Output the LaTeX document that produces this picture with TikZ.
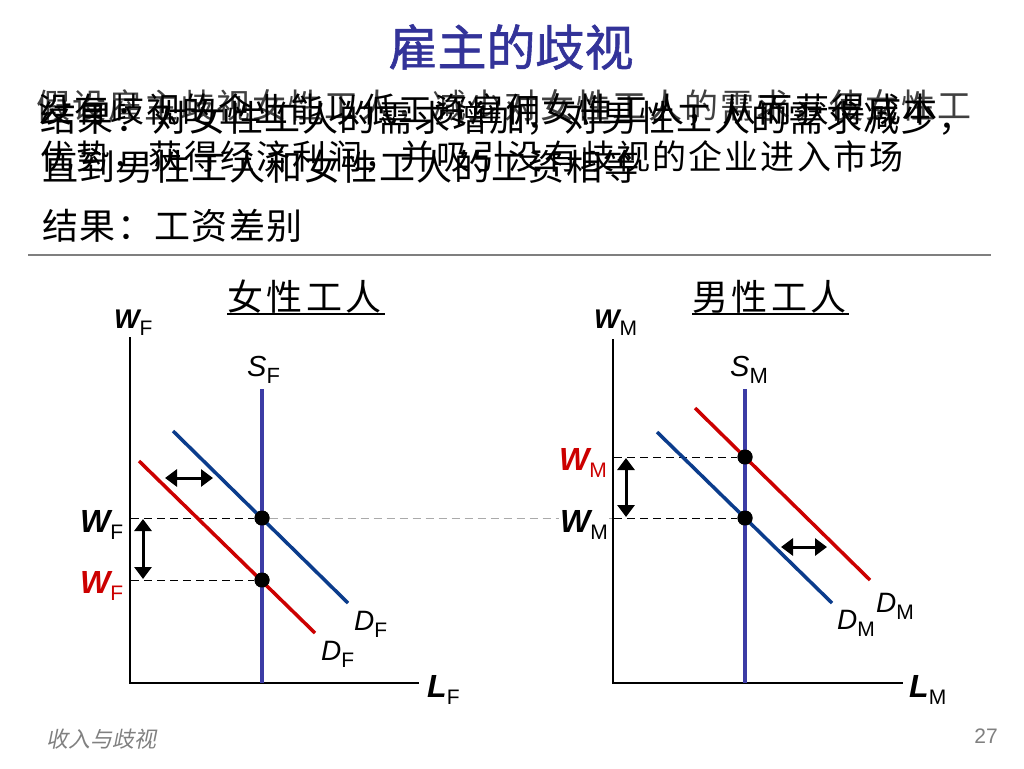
\documentclass[tikz,border=0pt]{standalone}
\usepackage{fontspec}
\setmainfont{Liberation Sans}
\newfontfamily\cjk{Noto Sans CJK SC}
\newfontfamily\cjkH[FakeBold=1.2]{Noto Sans CJK SC}
\newfontfamily\cjkA[LetterSpace=4]{Noto Sans CJK SC}
\newfontfamily\cjkB[LetterSpace=6]{Noto Sans CJK SC}
\newfontfamily\cjkT[LetterSpace=10]{Noto Sans CJK SC}
\newfontfamily\cjkI[FakeSlant=0.2]{Noto Sans CJK SC}
\usetikzlibrary{arrows.meta}
\definecolor{titleblue}{HTML}{333399}
\definecolor{supplyc}{HTML}{3C3CA5}
\definecolor{dblue}{HTML}{0B3C8C}
\definecolor{dred}{HTML}{CC0000}
\definecolor{rulec}{HTML}{7F7F7F}
\definecolor{footc}{HTML}{808080}
\definecolor{layerc}{HTML}{404040}
\definecolor{guidegray}{HTML}{AAAAAA}
\newcommand{\lbl}[4]{\fontsize{#1}{#1}\selectfont #2\raisebox{-7pt}{\fontsize{#3}{#3}\selectfont\mdseries\upshape #4}}
\tikzset{
  lab/.style={anchor=base west, inner sep=0pt},
  axisline/.style={line width=1.5pt, line cap=rect},
  supplyline/.style={line width=3.5pt, supplyc},
  demline/.style={line width=3.5pt},
  guide/.style={line width=1pt, dash pattern=on 8pt off 5pt},
  dotnode/.style={circle, fill=black, inner sep=0pt, minimum size=15pt},
  dbl/.style={line width=3pt, {Triangle[length=12pt,width=17pt]}-{Triangle[length=12pt,width=17pt]}},
  txt/.style={anchor=west, inner sep=0pt}
}
\begin{document}
\begin{tikzpicture}[x=1pt,y=-1pt]
\useasboundingbox[fill=white] (0,0) rectangle (1024,768);

% title
\node[inner sep=0pt, text=titleblue, font=\cjkH\fontsize{49}{49}\selectfont] (title) at (511,47) {雇主的歧视};

% overlapping text layers
\node[txt, text=layerc, font=\cjkB\fontsize{34}{34}\selectfont] (c1) at (36,106) {假设雇主歧视女性工人，减少对女性工人的需求，使女性工};
\node[txt, font=\cjkB\fontsize{34}{34}\selectfont] (b1) at (38,110) {没有歧视的企业能以低工资雇佣女性工人，从而获得成本};
\node[txt, font=\cjkB\fontsize{34}{34}\selectfont] (b2) at (40,157) {优势，获得经济利润，并吸引没有歧视的企业进入市场};
\node[txt, font=\cjkA\fontsize{36}{36}\selectfont] (a1) at (40,118) {结果：对女性工人的需求增加，对男性工人的需求减少，};
\node[txt, font=\cjkA\fontsize{36}{36}\selectfont] (a2) at (42,167) {直到男性工人和女性工人的工资相等};

\node[txt, font=\cjkA\fontsize{36}{36}\selectfont] (res) at (42,226) {结果：工资差别};
\coordinate (ruleL) at (28,255);
\coordinate (ruleR) at (991,255);
\draw[rulec, line width=1.5pt] (ruleL) -- (ruleR);

% chart titles
\node[txt, font=\cjkT\fontsize{36}{36}\selectfont] (tF) at (227,297) {女性工人};
\coordinate (uFl) at (227,314); \coordinate (uFr) at (385,314);
\draw[line width=1.2pt] (uFl) -- (uFr);
\node[txt, font=\cjkT\fontsize{36}{36}\selectfont] (tM) at (692,297) {男性工人};
\coordinate (uMl) at (692,314); \coordinate (uMr) at (849,314);
\draw[line width=1.2pt] (uMl) -- (uMr);

% ---------- left chart ----------
\coordinate (lYtop) at (130,338);
\coordinate (lO) at (130,683);
\coordinate (lXend) at (418,683);
\coordinate (lS1) at (262,389);
\coordinate (lS0) at (262,683);
\coordinate (lB1) at (173,431); \coordinate (lB2) at (348,603);
\coordinate (lR1) at (139,461); \coordinate (lR2) at (315,633);
\coordinate (lA1) at (131,518);
\coordinate (lA2) at (131,580);

% ---------- right chart ----------
\coordinate (rYtop) at (613,340);
\coordinate (rO) at (613,683);
\coordinate (rXend) at (902,683);
\coordinate (rS1) at (745,389);
\coordinate (rS0) at (745,683);
\coordinate (rR1) at (695,408); \coordinate (rR2) at (870,580);
\coordinate (rB1) at (657,432); \coordinate (rB2) at (832,603);
\coordinate (rA1) at (614,457);
\coordinate (rA2) at (614,518);

% dots
\node[dotnode] (lE1) at (262,518) {};
\node[dotnode] (lE2) at (262,580) {};
\node[dotnode] (rE1) at (745,457) {};
\node[dotnode] (rE2) at (745,518) {};

% guides
\draw[guide, guidegray] (lE1) -- (rA2);
\draw[guide] (lA1) -- (lE1);
\draw[guide] (lA2) -- (lE2);
\draw[guide] (rA1) -- (rE1);
\draw[guide] (rA2) -- (rE2);

% axes
\draw[axisline] (lYtop) -- (lO) -- (lXend);
\draw[axisline] (rYtop) -- (rO) -- (rXend);

% curves
\draw[supplyline] (lS1) -- (lS0);
\draw[supplyline] (rS1) -- (rS0);
\draw[demline, dblue] (lB1) -- (lB2);
\draw[demline, dred] (lR1) -- (lR2);
\draw[demline, dred] (rR1) -- (rR2);
\draw[demline, dblue] (rB1) -- (rB2);

% dots on top
\fill (lE1) circle (7.5pt);
\fill (lE2) circle (7.5pt);
\fill (rE1) circle (7.5pt);
\fill (rE2) circle (7.5pt);

% shift arrows
\coordinate (lv1) at (143,519); \coordinate (lv2) at (143,579);
\coordinate (lh1) at (165,478); \coordinate (lh2) at (213,478);
\coordinate (rv1) at (626,458); \coordinate (rv2) at (626,517);
\coordinate (rh1) at (781,547); \coordinate (rh2) at (827,547);
\draw[dbl] (lv1) -- (lv2);
\draw[dbl] (lh1) -- (lh2);
\draw[dbl] (rv1) -- (rv2);
\draw[dbl] (rh1) -- (rh2);

% labels left
\node[lab] (lWax) at (114,328) {\lbl{27}{\bfseries\itshape W}{21}{F}};
\node[lab] (lSl) at (247,376) {\lbl{29}{\itshape S}{22}{F}};
\node[lab] (lW1) at (80,532) {\lbl{32}{\bfseries\itshape W}{21}{F}};
\node[lab, text=dred] (lW2) at (80,593) {\lbl{32}{\bfseries\itshape W}{21}{F}};
\node[lab] (lDb) at (354,630) {\lbl{28}{\itshape D}{21}{F}};
\node[lab] (lDr) at (321,660) {\lbl{28}{\itshape D}{21}{F}};
\node[lab] (lLl) at (427,697) {\lbl{32}{\bfseries\itshape L}{21}{F}};

% labels right
\node[lab] (rWax) at (594,328) {\lbl{27}{\bfseries\itshape W}{21}{M}};
\node[lab] (rSl) at (730,376) {\lbl{29}{\itshape S}{22}{M}};
\node[lab, text=dred] (rW1) at (559,470) {\lbl{32}{\bfseries\itshape W}{21}{M}};
\node[lab, fill=white, inner sep=1pt] (rW2) at (559,532) {\lbl{32}{\bfseries\itshape W}{21}{M}};
\node[lab] (rDr) at (876,612) {\lbl{28}{\itshape D}{21}{M}};
\node[lab] (rDb) at (837,629) {\lbl{28}{\itshape D}{21}{M}};
\node[lab] (rLl) at (909,697) {\lbl{32}{\bfseries\itshape L}{21}{M}};

% footer
\node[txt, text=footc, font=\cjkI\fontsize{22}{22}\selectfont] (foot) at (46,739) {收入与歧视};
\node[anchor=east, inner sep=0pt, text=footc, font=\fontsize{21}{21}\selectfont] (page) at (998,736) {27};
\end{tikzpicture}
\end{document}
